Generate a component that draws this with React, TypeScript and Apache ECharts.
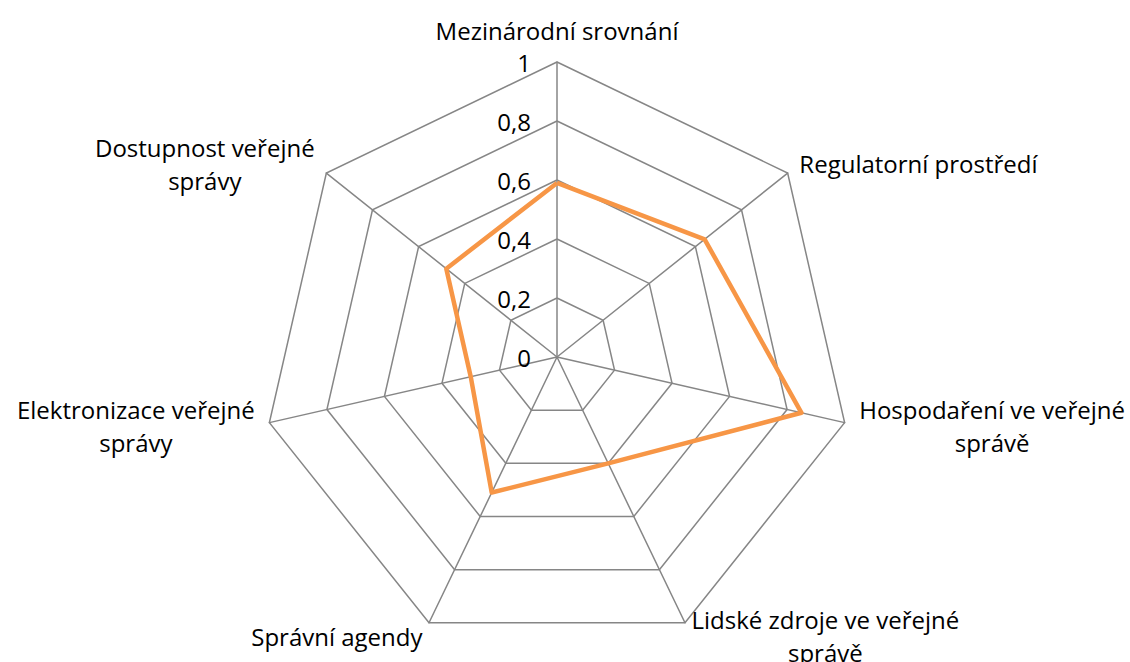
import React, { useEffect, useRef } from "react";
import * as echarts from "echarts";

// Indicators in clockwise order as in the reference (starting at top)
const categories = [
  "Mezinárodní srovnání",
  "Regulatorní prostředí",
  "Hospodaření ve veřejné\nsprávě",
  "Lidské zdroje ve veřejné\nsprávě",
  "Správní agendy",
  "Elektronizace veřejné\nsprávy",
  "Dostupnost veřejné\nsprávy",
];
const values = [0.59, 0.64, 0.85, 0.4, 0.51, 0.3, 0.48];
const axisMax = 1;

const FONT = "'Open Sans', sans-serif";
const FS = 24;

export default function App() {
  const ref = useRef<HTMLDivElement>(null);
  useEffect(() => {
    if (!ref.current) return;
    const chart = echarts.init(ref.current, null, { renderer: "svg" });
    // ECharts places indicators counter-clockwise: keep first, reverse the rest
    const order = [0, ...categories.slice(1).map((_, i) => categories.length - 1 - i)];
    const indicator = order.map((idx, k) => ({
      name: categories[idx],
      max: axisMax,
      min: 0,
      axisLabel: k === 0 ? { show: true } : { show: false },
    }));
    const data = order.map((idx) => values[idx]);
    chart.setOption({
      animation: false,
      radar: {
        center: [557, 357],
        radius: 295,
        startAngle: 90,
        shape: "polygon",
        splitNumber: 5,
        indicator,
        nameGap: 15,
        axisName: {
          color: "#000",
          fontFamily: FONT,
          fontSize: FS,
          formatter: (name: string) =>
            name
              .split("\n")
              .map((l) => `{c|${l}}`)
              .join("\n"),
          rich: {
            c: { align: "center", fontFamily: FONT, fontSize: FS, lineHeight: 33, color: "#000" },
          },
        },
        axisLabel: {
          show: false,
          color: "#000",
          fontFamily: FONT,
          fontSize: FS,
          margin: 26,
          formatter: (v: number) => String(Math.round(v * 10) / 10).replace(".", ","),
        },
        axisLine: { show: true, lineStyle: { color: "#868686", width: 1.5 } },
        axisTick: { show: false },
        splitLine: { show: true, lineStyle: { color: "#868686", width: 1.5 } },
        splitArea: { show: false },
      },
      series: [
        {
          type: "radar",
          symbol: "none",
          lineStyle: { color: "#F79646", width: 4.5 },
          itemStyle: { color: "#F79646" },
          data: [{ value: data, name: "Hodnota" }],
        },
      ],
    });
    return () => chart.dispose();
  }, []);
  return (
    <div
      ref={ref}
      style={{ position: "fixed", left: 0, top: 0, width: 1130, height: 662, background: "#fff" }}
    />
  );
}
